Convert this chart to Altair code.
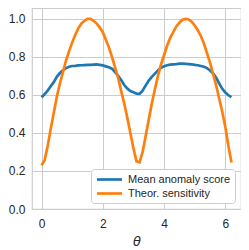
import altair as alt
import pandas as pd

theta = [round(i * 0.1, 1) for i in range(63)]

mean_score = [
    0.588, 0.603, 0.622, 0.645, 0.667, 0.695, 0.715, 0.730, 0.741, 0.748,
    0.752, 0.753, 0.755, 0.756, 0.757, 0.758, 0.758, 0.759, 0.760, 0.758,
    0.755, 0.750, 0.745, 0.738, 0.720, 0.700, 0.678, 0.652, 0.633, 0.620,
    0.614, 0.607, 0.606, 0.622, 0.650, 0.675, 0.695, 0.712, 0.728, 0.743,
    0.751, 0.756, 0.759, 0.761, 0.762, 0.764, 0.764, 0.763, 0.762, 0.761,
    0.758, 0.756, 0.752, 0.748, 0.741, 0.728, 0.713, 0.690, 0.660, 0.632,
    0.612, 0.598, 0.588,
]

sensitivity = [
    0.230, 0.255, 0.330, 0.420, 0.505, 0.590, 0.660, 0.720, 0.780, 0.830,
    0.875, 0.915, 0.950, 0.975, 0.990, 1.000, 1.000, 0.990, 0.975, 0.955,
    0.930, 0.890, 0.850, 0.800, 0.745, 0.690, 0.620, 0.555, 0.480, 0.400,
    0.320, 0.250, 0.245, 0.300, 0.385, 0.470, 0.555, 0.630, 0.700, 0.760,
    0.810, 0.860, 0.900, 0.930, 0.960, 0.980, 0.995, 1.000, 0.997, 0.985,
    0.965, 0.940, 0.910, 0.870, 0.820, 0.770, 0.710, 0.650, 0.580, 0.510,
    0.430, 0.330, 0.245,
]

series_names = ["Mean anomaly score", "Theor. sensitivity"]
series_colors = ["#1f77b4", "#ff7f0e"]

df = pd.DataFrame({
    "theta": theta * 2,
    "value": mean_score + sensitivity,
    "series": [series_names[0]] * len(theta) + [series_names[1]] * len(theta),
})

chart = alt.Chart(df).mark_line(strokeWidth=2.7).encode(
    x=alt.X("theta:Q",
            scale=alt.Scale(domain=[-0.31, 6.51], nice=False, zero=False),
            axis=alt.Axis(values=[0, 2, 4, 6], title="θ", labelPadding=9,
                          titleFont="DejaVu Sans", titleFontStyle="italic",
                          titleFontWeight="normal", titleFontSize=13,
                          titlePadding=6)),
    y=alt.Y("value:Q",
            scale=alt.Scale(domain=[0, 1.057], nice=False),
            axis=alt.Axis(values=[0, 0.2, 0.4, 0.6, 0.8, 1.0], format=".1f",
                          title=None, labelPadding=7)),
    color=alt.Color("series:N",
                    scale=alt.Scale(domain=series_names, range=series_colors),
                    legend=alt.Legend(title=None, orient="bottom-right",
                                      offset=6, symbolType="M-2.5,0H2.5",
                                      symbolSize=100, symbolStrokeWidth=2.7,
                                      symbolOffset=8,
                                      labelFont="Liberation Sans",
                                      labelFontSize=11, labelColor="#262626",
                                      labelOffset=12, rowPadding=2,
                                      padding=4, fillColor="white",
                                      strokeColor="#cccccc", cornerRadius=3)),
    order="theta:Q",
).properties(
    width=209,
    height=201,
    padding=0,
).configure_view(
    stroke="#cccccc", strokeWidth=1.2
).configure_axis(
    grid=True, gridColor="#cccccc", gridWidth=1, domain=False, ticks=False,
    labelFont="Liberation Sans", labelFontSize=12, labelColor="#262626",
    titleColor="#262626",
)

chart.save("out.html", embed_options={"renderer": "svg", "actions": False})
